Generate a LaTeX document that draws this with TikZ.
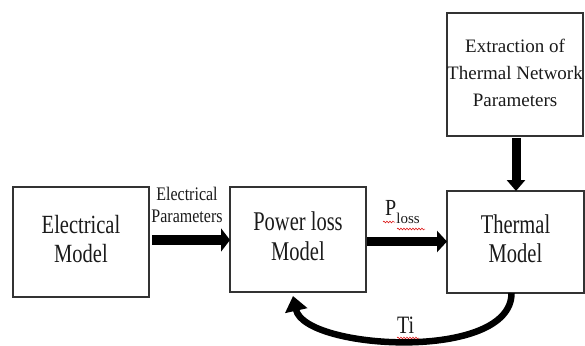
\documentclass[tikz,border=0pt]{standalone}
\usepackage{fontspec}
\usepackage{graphicx}
\setmainfont{Liberation Serif}
\usetikzlibrary{arrows.meta,decorations.pathmorphing}
\newcommand{\vtxt}[2]{\scalebox{1}[#1]{\begin{tabular}{@{}c@{}}#2\end{tabular}}}
\definecolor{ink}{HTML}{1A1A1A}
\definecolor{boxline}{HTML}{333333}
\tikzset{
  blockbox/.style={draw=boxline, line width=1.3pt, inner sep=0pt, outer sep=0pt, text=ink},
  mainfont/.style={font=\fontsize{20.5}{22.5}\selectfont},
  fatarrow/.style={draw=black, line width=#1, line cap=butt},
  spell/.style={draw=red!85!black, line width=0.5pt, decorate, decoration={snake, amplitude=0.9pt, segment length=3pt}},
}
\begin{document}
\begin{tikzpicture}[x=1pt,y=-1pt]
\useasboundingbox (0,0) rectangle (585,345);
\node[blockbox, mainfont, minimum width=136pt, minimum height=110pt] (elec) at (81,242) {\vtxt{1.28}{Electrical\\Model}};
\node[blockbox, mainfont, minimum width=136pt, minimum height=105pt] (ploss) at (298,239.5) {\vtxt{1.32}{Power loss\\Model}};
\node[blockbox, mainfont, minimum width=137pt, minimum height=102pt] (therm) at (515.5,242) {\vtxt{1.32}{Thermal\\Model}};
\node[blockbox, font=\fontsize{19}{27}\selectfont, minimum width=136pt, minimum height=123pt] (extr) at (515,74.5) {\begin{tabular}{@{}c@{}}Extraction of\\Thermal Network\\Parameters\end{tabular}};
% labels
\node[text=ink, font=\fontsize{16}{18.3}\selectfont] (eplab) at (187,207) {\vtxt{1.2}{Electrical\\Parameters}};
\node[text=ink, font=\fontsize{20}{20}\selectfont, anchor=base west, inner sep=0pt] (plab) at (385,215) {\scalebox{1}[1.15]{P}\raisebox{-0.4em}{\fontsize{15}{15}\selectfont loss}};
\node[text=ink, font=\fontsize{20}{20}\selectfont, anchor=base west, inner sep=0pt] (tilab) at (397,333) {\scalebox{1}[1.25]{Ti}};
% arrows
\draw[fatarrow=10pt, -{Triangle[length=9pt,width=23pt]}] ([xshift=3pt]elec.east |- 0,240) -- (ploss.west |- 0,240);
\draw[fatarrow=9pt, -{Triangle[length=10pt,width=21pt]}] ([xshift=1pt]ploss.east |- 0,241.5) -- (therm.west |- 0,241.5);
\draw[fatarrow=9pt, -{Triangle[length=11pt,width=18pt]}] ([yshift=-2pt]extr.south -| 516,0) -- (therm.north -| 516,0);
\draw[fatarrow=6.5pt, -{Triangle[length=15pt,width=22pt]}] ([xshift=-4pt]therm.south) .. controls (512,362) and (305,350) .. ([xshift=-5pt,yshift=-4pt]ploss.south);
% spell-check underlines
\draw[spell] (383,222) -- (395,222);
\draw[spell] (397,229) -- (425,229);
\draw[spell] (397,338) -- (419,338);
\end{tikzpicture}
\end{document}
